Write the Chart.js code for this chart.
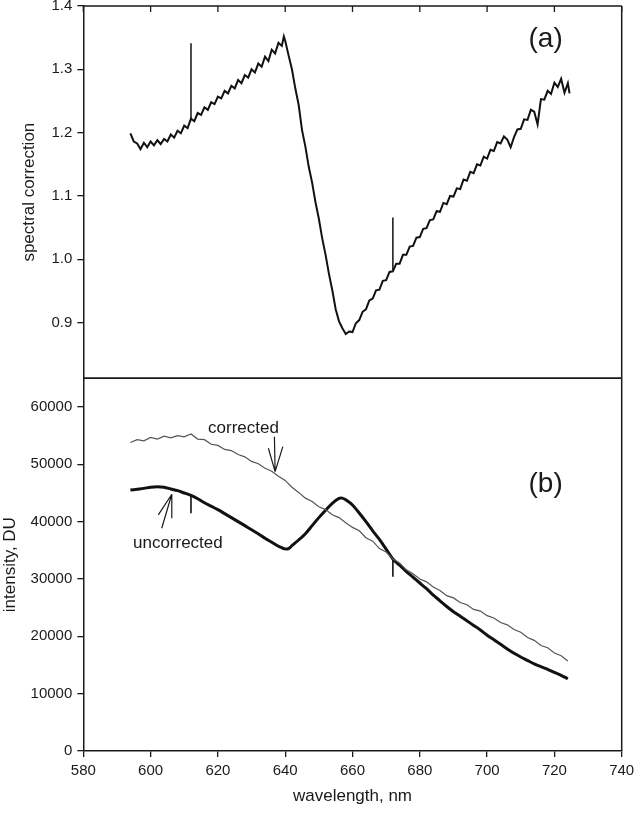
<!DOCTYPE html>
<html><head><meta charset="utf-8">
<script src="https://cdn.jsdelivr.net/npm/chart.js@4"></script>
<style>html,body{margin:0;padding:0;background:#fff;}#wrap{position:relative;width:634px;height:814px;}canvas{position:absolute;left:0;top:0;}</style>
</head><body><div id="wrap"><canvas id="ca" width="634" height="814"></canvas><canvas id="cb" width="634" height="814"></canvas></div>
<script>
// ---------- data ----------
const xTicks = [580, 600, 620, 640, 660, 680, 700, 720, 740];
const yTicksTop = [0.9, 1.0, 1.1, 1.2, 1.3, 1.4];
const yTicksBottom = [0, 10000, 20000, 30000, 40000, 50000, 60000];

const wlTop = [594,595,596,597,598,599,600,601,602,603,604,605,606,607,608,609,610,611,612,613,614,615,616,617,618,619,620,621,622,623,624,625,626,627,628,629,630,631,632,633,634,635,636,637,638,639,639.6,640,641,642,643,644,645,646,647,648,649,650,651,652,653,654,655,656,657,658,659,660,661,662,663,664,665,666,667,668,669,670,671,672,673,674,675,676,677,678,679,680,681,682,683,684,685,686,687,688,689,690,691,692,693,694,695,696,697,698,699,700,701,702,703,704,705,706,707,708,709,710,711,712,713,714,715,716,717,718,719,720,721,722,723,724,724.5];
const spectralCorrection = [1.199,1.186,1.183,1.174,1.184,1.177,1.186,1.180,1.188,1.182,1.190,1.186,1.197,1.192,1.203,1.199,1.211,1.207,1.222,1.218,1.231,1.228,1.240,1.236,1.248,1.245,1.257,1.254,1.266,1.262,1.274,1.270,1.283,1.278,1.291,1.287,1.300,1.295,1.309,1.304,1.320,1.313,1.331,1.325,1.342,1.337,1.352,1.345,1.322,1.300,1.270,1.244,1.204,1.178,1.146,1.121,1.090,1.064,1.033,1.007,0.977,0.951,0.921,0.902,0.891,0.882,0.886,0.885,0.899,0.904,0.917,0.921,0.935,0.938,0.951,0.952,0.966,0.967,0.980,0.981,0.993,0.993,1.007,1.007,1.020,1.021,1.034,1.035,1.048,1.049,1.062,1.063,1.076,1.075,1.089,1.087,1.100,1.099,1.112,1.111,1.126,1.124,1.138,1.136,1.150,1.148,1.162,1.159,1.173,1.171,1.185,1.183,1.194,1.189,1.177,1.193,1.205,1.206,1.221,1.220,1.236,1.233,1.213,1.253,1.252,1.266,1.261,1.279,1.272,1.285,1.263,1.278,1.262];
// spikes in the correction curve: [wavelength, base, tip]
const spikesTop = [[612, 1.222, 1.341], [672, 0.983, 1.066]];

const wlBottom = [594,596,598,600,602,604,606,608,610,612,614,616,618,620,622,624,626,628,630,632,634,636,638,639,640,641,642,644,646,648,650,652,654,656,657,658,660,662,664,666,668,670,672,674,676,678,680,682,684,686,688,690,692,694,696,698,700,702,704,706,708,710,712,714,716,718,720,722,724];
const uncorrected = [45500,45650,45800,46000,46100,46000,45700,45400,45000,44600,44000,43300,42700,42100,41400,40700,40000,39300,38600,37900,37100,36400,35700,35450,35250,35300,35800,36800,37900,39300,40700,42000,43200,44050,44100,43800,42900,41500,40000,38400,36900,35200,33500,32400,31300,30300,29300,28300,27200,26200,25200,24300,23500,22700,21900,21100,20200,19400,18600,17800,17050,16400,15800,15200,14700,14250,13700,13200,12600];
const wlCorrected = [594,596,598,600,602,604,606,608,610,612,614,616,618,620,622,624,626,628,630,632,634,636,638,640,642,644,646,648,650,652,654,656,658,660,662,664,666,668,670,672,674,676,678,680,682,684,686,688,690,692,694,696,698,700,702,704,706,708,710,712,714,716,718,720,722,724];
const corrected = [53800,54300,54100,54700,54400,54900,54600,55000,54800,55300,54400,54300,53500,53300,52600,52400,51700,51300,50500,50100,49300,48800,47900,47200,46000,45100,44100,43500,42600,42100,41200,40700,39800,39000,38400,37200,36600,35300,34700,33500,32800,31600,30900,30000,29500,28600,28000,27100,26700,25900,25500,24700,24400,23600,23200,22400,22000,21200,20700,19800,19300,18400,18000,17100,16600,15700];
const spikesBottom = [[612, 44700, 41460], [672, 33600, 30400]];

// annotations (data coordinates)
const panelLabels = [{text: '(a)', x: 717.4, y: 1.348}, {text: '(b)', x: 717.4, y: 46500}];
const curveLabels = [{text: 'corrected', x: 627.6, y: 56340}, {text: 'uncorrected', x: 608.1, y: 36280}];
const arrowCorrected = [[636.8, 54820], [635.0, 52800], [639.3, 53080]];
const arrowCorrectedTip = [637.0, 48720];
const arrowUncorrected = [[603.3, 38850], [602.3, 41170], [606.3, 40590]];
const arrowUncorrectedTip = [606.3, 44775];

// ---------- layout / style ----------
const FONT = "'Liberation Sans', Arial, Helvetica, sans-serif";
const INK = '#1a1a1a';
const L = 83.3, R = 621.7, T = 6, MID = 378.3, B = 751;
const W = 634, H = 814;

function pts(xs, ys) { return xs.map((x, i) => ({x: x, y: ys[i]})); }
function spikePts(sp) {
  const out = [];
  sp.forEach(s => { out.push({x: s[0], y: s[1]}, {x: s[0], y: s[2]}, {x: s[0], y: null}); });
  return out;
}

const framePlugin = {
  id: 'frame',
  afterDraw(chart, args, opts) {
    const ctx = chart.ctx, a = chart.chartArea, xs = chart.scales.x;
    ctx.save();
    ctx.strokeStyle = INK; ctx.lineWidth = 1.5;
    ctx.beginPath();
    ctx.moveTo(a.left, a.top); ctx.lineTo(a.right, a.top);
    ctx.moveTo(a.right, a.top); ctx.lineTo(a.right, a.bottom);
    if (opts.bottom) { ctx.moveTo(a.left, a.bottom); ctx.lineTo(a.right, a.bottom); }
    ctx.stroke();
    if (opts.topTicks) {
      ctx.lineWidth = 1.3;
      ctx.beginPath();
      xTicks.forEach(v => { const px = xs.getPixelForValue(v); ctx.moveTo(px, a.top); ctx.lineTo(px, a.top + 6); });
      ctx.stroke();
    }
    ctx.restore();
  }
};

const annotPlugin = {
  id: 'annot',
  afterDatasetsDraw(chart, args, opts) {
    const ctx = chart.ctx, xs = chart.scales.x, ys = chart.scales.y;
    const P = (x, y) => [xs.getPixelForValue(x), ys.getPixelForValue(y)];
    ctx.save();
    ctx.fillStyle = INK; ctx.textAlign = 'center'; ctx.textBaseline = 'middle';
    (opts.panel || []).forEach(l => { const p = P(l.x, l.y); ctx.font = '28px ' + FONT; ctx.fillText(l.text, p[0], p[1]); });
    (opts.labels || []).forEach(l => { const p = P(l.x, l.y); ctx.font = '17px ' + FONT; ctx.fillText(l.text, p[0], p[1]); });
    ctx.strokeStyle = INK; ctx.lineWidth = 1.2;
    (opts.arrows || []).forEach(ar => {
      const tip = P(ar.tip[0], ar.tip[1]);
      ctx.beginPath();
      ar.lines.forEach(q => { const p = P(q[0], q[1]); ctx.moveTo(p[0], p[1]); ctx.lineTo(tip[0], tip[1]); });
      ctx.stroke();
    });
    ctx.restore();
  }
};

const tickFont = {family: FONT, size: 15};
const titleFont = {family: FONT, size: 17};

new Chart(document.getElementById('ca'), {
  type: 'line',
  data: {datasets: [
    {data: pts(wlTop, spectralCorrection), borderColor: '#111', borderWidth: 2, pointRadius: 0, tension: 0},
    {data: spikePts(spikesTop), borderColor: '#111', borderWidth: 1.5, pointRadius: 0, spanGaps: false}
  ]},
  options: {
    responsive: false, animation: false, events: [],
    layout: {padding: {left: 0, top: T, right: W - R, bottom: H - MID}},
    plugins: {legend: {display: false}, tooltip: {enabled: false},
      frame: {bottom: true, topTicks: true},
      annot: {panel: [panelLabels[0]]}},
    scales: {
      x: {type: 'linear', min: 580, max: 740, display: false},
      y: {type: 'linear', min: 0.812, max: 1.4,
        afterBuildTicks: s => { s.ticks = yTicksTop.map(v => ({value: v})); },
        afterFit: s => { s.width = L; s.paddingTop = 0; s.paddingBottom = 0; },
        ticks: {font: tickFont, color: INK, padding: 5, callback: v => Number(v).toFixed(1)},
        grid: {drawOnChartArea: false, drawTicks: true, tickLength: 6, color: INK, lineWidth: 1.3},
        border: {display: true, color: INK, width: 1.5},
        title: {display: true, text: 'spectral correction', font: titleFont, color: INK, padding: {top: 19, bottom: 0}}
      }
    }
  },
  plugins: [framePlugin, annotPlugin]
});

new Chart(document.getElementById('cb'), {
  type: 'line',
  data: {datasets: [
    {data: pts(wlCorrected, corrected), borderColor: '#555', borderWidth: 1.2, pointRadius: 0, tension: 0},
    {data: pts(wlBottom, uncorrected), borderColor: '#111', borderWidth: 3, pointRadius: 0, tension: 0.3},
    {data: spikePts(spikesBottom), borderColor: '#111', borderWidth: 1.6, pointRadius: 0, spanGaps: false}
  ]},
  options: {
    responsive: false, animation: false, events: [],
    layout: {padding: {left: 0, top: MID, right: W - R, bottom: 0}},
    plugins: {legend: {display: false}, tooltip: {enabled: false},
      frame: {bottom: false, topTicks: false},
      annot: {panel: [panelLabels[1]], labels: curveLabels,
        arrows: [{tip: arrowCorrectedTip, lines: arrowCorrected}, {tip: arrowUncorrectedTip, lines: arrowUncorrected}]}},
    scales: {
      x: {type: 'linear', min: 580, max: 740,
        afterBuildTicks: s => { s.ticks = xTicks.map(v => ({value: v})); },
        afterFit: s => { s.height = H - B; s.paddingLeft = 0; s.paddingRight = 0; },
        ticks: {font: tickFont, color: INK, padding: 5, maxRotation: 0, callback: v => String(v)},
        grid: {drawOnChartArea: false, drawTicks: true, tickLength: 6, color: INK, lineWidth: 1.3},
        border: {display: true, color: INK, width: 1.5},
        title: {display: true, text: 'wavelength, nm', font: titleFont, color: INK, padding: {top: 0, bottom: 7}}
      },
      y: {type: 'linear', min: 0, max: 65000,
        afterBuildTicks: s => { s.ticks = yTicksBottom.map(v => ({value: v})); },
        afterFit: s => { s.width = L; s.paddingTop = 0; s.paddingBottom = 0; },
        ticks: {font: tickFont, color: INK, padding: 5, callback: v => String(v)},
        grid: {drawOnChartArea: false, drawTicks: true, tickLength: 6, color: INK, lineWidth: 1.3},
        border: {display: true, color: INK, width: 1.5},
        title: {display: true, text: 'intensity, DU', font: titleFont, color: INK, padding: {top: 0, bottom: 0}}
      }
    }
  },
  plugins: [framePlugin, annotPlugin]
});
</script></body></html>
